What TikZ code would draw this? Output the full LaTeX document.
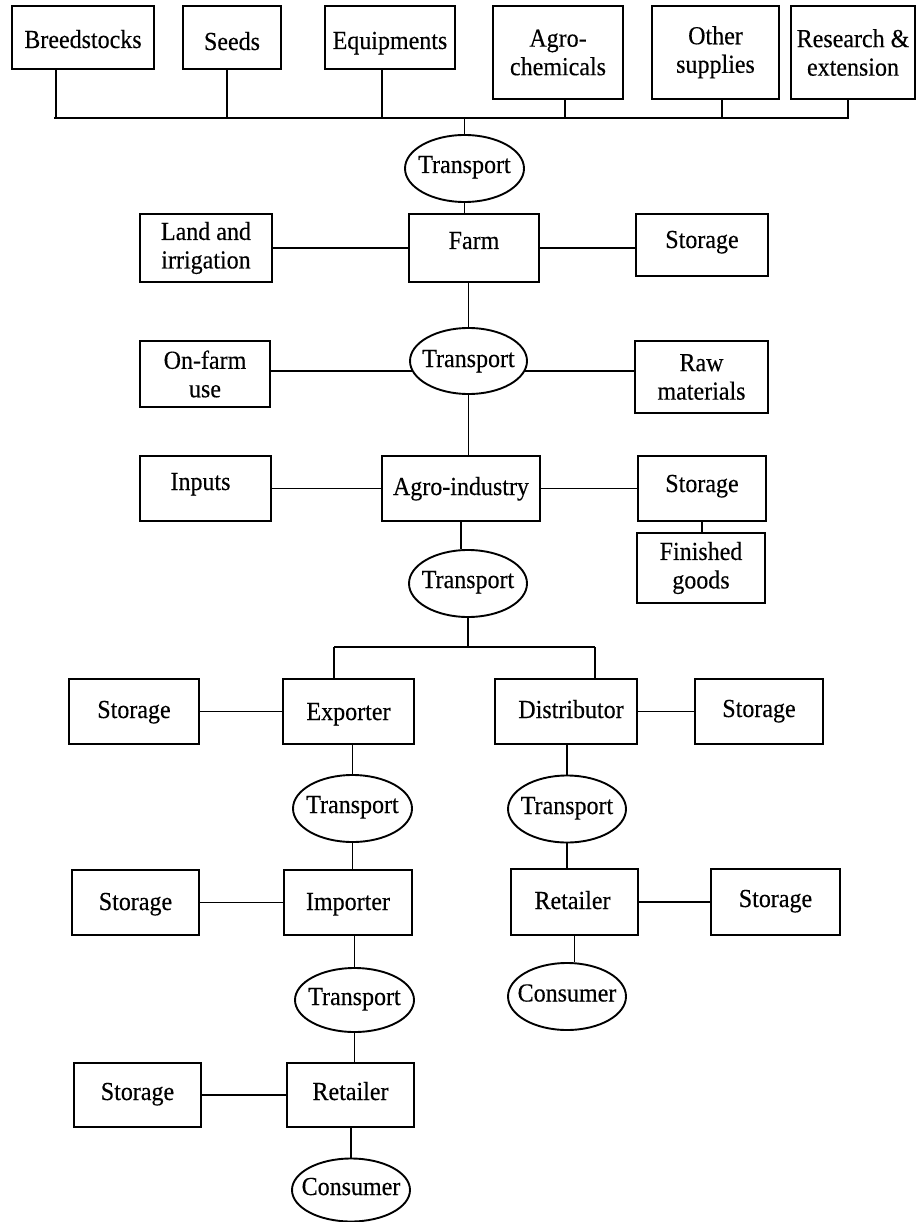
\documentclass[tikz,border=0pt]{standalone}
\usepackage{fontspec}
\setmainfont{Liberation Serif}[FakeStretch=0.923, FakeBold=0.3]
\usetikzlibrary{shapes.geometric}
\tikzset{
  base/.style={draw=black, line width=1.9pt, inner sep=0pt,
    font=\fontsize{26}{28.5}\selectfont},
  bx/.style={base, rectangle, text height=#1, text depth=0pt},
  bx/.default=14pt,
  mbx/.style={base, rectangle, align=center},
  ov/.style={base, ellipse, minimum width=119pt, minimum height=67pt, text height=#1, text depth=0pt},
  ov/.default=10pt,
  link/.style={draw=black, line width=1.9pt}
}
\newcommand\nw[1]{\makebox[0pt]{#1}}
\begin{document}
\begin{tikzpicture}[x=1pt,y=-1pt]
\useasboundingbox (0,0) rectangle (916,1222);
% supply row
\node[bx=21pt, minimum width=142pt, minimum height=63pt] (breed) at (83,37.5) {Breedstocks};
\node[bx=25pt, minimum width=98pt, minimum height=63pt] (seeds) at (232,37.5) {Seeds};
\node[bx=23pt, minimum width=130pt, minimum height=63pt] (equip) at (390,37.5) {Equipments};
\node[mbx, minimum width=130pt, minimum height=93pt] (agrochem) at (558,52.5) {Agro-\\chemicals};
\node[mbx, minimum width=127pt, minimum height=93pt] (other) at (715.5,52.5) {\raisebox{6pt}{Other}\\\raisebox{6pt}{supplies}};
\node[mbx, minimum width=124pt, minimum height=93pt] (research) at (853,52.5) {Research \&\\extension};
% bus
\coordinate (tl) at (54,118);
\coordinate (tr) at (849,118);
\coordinate (d1) at (56,118);
\coordinate (d2) at (227,118);
\coordinate (d3) at (382,118);
\coordinate (d4) at (565,118);
\coordinate (d5) at (722,118);
\coordinate (d6) at (848,118);
\node[ov=9pt] (t1) at (464.5,168.5) {\nw{Transport}};
% farm level
\node[mbx, minimum width=132pt, minimum height=68pt] (land) at (206,248) {Land and\\irrigation};
\node[bx=2pt, minimum width=130pt, minimum height=68pt] (farm) at (474,248) {Farm};
\node[bx=6pt, minimum width=132pt, minimum height=62pt] (stor1) at (702,245) {Storage};
\node[ov=12pt, minimum width=117pt, minimum height=66pt] (t2) at (468.5,361) {\nw{Transport}};
\node[mbx, minimum width=130pt, minimum height=66pt] (onfarm) at (205,374) {On-farm\\use};
\node[mbx, minimum width=133pt, minimum height=72pt] (raw) at (701.5,377) {Raw\\materials};
% agro-industry level
\node[bx=3pt, minimum width=131pt, minimum height=65pt] (inputs) at (205.5,488.5) {\nw{\hspace{-10pt}Inputs}};
\node[bx=13pt, minimum width=158pt, minimum height=65pt] (agroind) at (461,488.5) {Agro-industry};
\node[bx=7pt, minimum width=128pt, minimum height=65pt] (stor2) at (702,488.5) {Storage};
\node[mbx, minimum width=128pt, minimum height=70pt] (finished) at (701,568) {Finished\\goods};
\node[ov=9pt, minimum width=118pt] (t3) at (468,583.5) {\nw{Transport}};
\coordinate (bl) at (334,647);
\coordinate (br) at (595,647);
% exporter / distributor
\node[bx=13pt, minimum width=130pt, minimum height=65pt] (storL1) at (134,711.5) {Storage};
\node[bx=17pt, minimum width=131pt, minimum height=65pt] (exporter) at (348.5,711.5) {Exporter};
\node[bx=13pt, minimum width=142pt, minimum height=65pt] (distrib) at (566,711.5) {\nw{\hspace{10pt}Distributor}};
\node[bx=11pt, minimum width=128pt, minimum height=65pt] (storR1) at (759,711.5) {Storage};
\node[ov=9pt] (t4) at (352.5,808.5) {\nw{Transport}};
\node[ov, minimum width=118pt] (t5) at (567,809) {\nw{Transport}};
% importer / retailer
\node[bx=15pt, minimum width=127pt, minimum height=65pt] (storL2) at (135.5,902.5) {Storage};
\node[bx=15pt, minimum width=128pt, minimum height=65pt] (importer) at (348,902.5) {Importer};
\node[bx=14pt, minimum width=127pt, minimum height=66pt] (retailer2) at (574.5,902) {\nw{\hspace{-4pt}Retailer}};
\node[bx=10pt, minimum width=129pt, minimum height=66pt] (storR2) at (775.5,902) {Storage};
\node[ov, minimum height=64pt] (t6) at (354.5,1000) {\nw{Transport}};
\node[ov, minimum width=118pt] (consumer2) at (567,996.5) {\nw{Consumer}};
\node[bx=10pt, minimum width=127pt, minimum height=64pt] (storL3) at (137.5,1095) {Storage};
\node[bx=10pt, minimum width=127pt, minimum height=64pt] (retailer1) at (350.5,1095) {Retailer};
\node[ov, minimum width=118pt, minimum height=63pt] (consumer1) at (351,1190) {\nw{Consumer}};
% connectors: top bus
\draw[link] (tl) -- (tr);
\draw[link] (d1) -- (d1 |- breed.south);
\draw[link] (d2) -- (d2 |- seeds.south);
\draw[link] (d3) -- (d3 |- equip.south);
\draw[link] (d4) -- (d4 |- agrochem.south);
\draw[link] (d5) -- (d5 |- other.south);
\draw[link] (d6) -- (d6 |- research.south);
\draw[link] (t1.north) -- (t1.north |- tl);
\draw[link] (t1.south) -- (t1.south |- farm.north);
% farm
\draw[link] (land.east) -- (farm.west);
\draw[link] (farm.east) -- (farm.east -| stor1.west);
\draw[link] (t2.north) -- (t2.north |- farm.south);
\draw[link] (t2.190) -- (t2.190 -| onfarm.east);
\draw[link] (t2.350) -- (t2.350 -| raw.west);
\draw[link] (t2.south) -- (t2.south |- agroind.north);
% agro-industry
\draw[link] (inputs.east) -- (agroind.west);
\draw[link] (agroind.east) -- (stor2.west);
\draw[link] (stor2.south) -- (stor2.south |- finished.north);
\draw[link] (agroind.south) -- (agroind.south |- t3.north);
\draw[link] (t3.south) -- (t3.south |- bl);
\draw[link] (bl) -- (br);
\draw[link] (bl) -- (bl |- exporter.north);
\draw[link] (br) -- (br |- distrib.north);
% exporter / distributor
\draw[link] (storL1.east) -- (exporter.west);
\draw[link] (distrib.east) -- (storR1.west);
\draw[link] (t4.north) -- (t4.north |- exporter.south);
\draw[link] (t5.north) -- (t5.north |- distrib.south);
\draw[link] (t4.south) -- (t4.south |- importer.north);
\draw[link] (t5.south) -- (t5.south |- retailer2.north);
% importer / retailer
\draw[link] (storL2.east) -- (importer.west);
\draw[link] (retailer2.east) -- (retailer2.east -| storR2.west);
\draw[link] (retailer2.south) -- (retailer2.south |- consumer2.north);
\draw[link] (t6.north) -- (t6.north |- importer.south);
\draw[link] (t6.south) -- (t6.south |- retailer1.north);
\draw[link] (storL3.east) -- (retailer1.west);
\draw[link] (consumer1.north) -- (consumer1.north |- retailer1.south);
\end{tikzpicture}
\end{document}
